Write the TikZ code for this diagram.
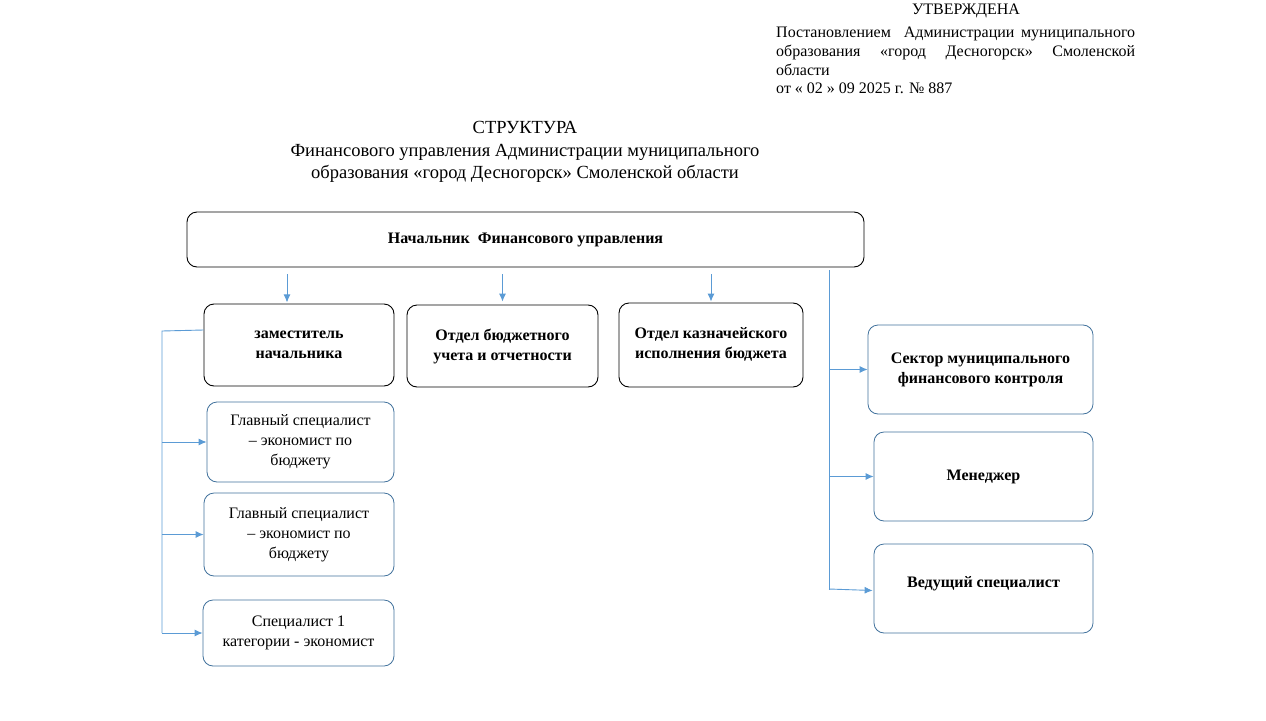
\documentclass[tikz,border=0pt]{standalone}
\usepackage{fontspec}
\setmainfont{Liberation Serif}
\usetikzlibrary{arrows.meta,calc}
\definecolor{lineblue}{HTML}{5B9BD5}
\definecolor{boxblue}{HTML}{41719C}
\tikzset{
  bbox/.style={draw=black, line width=0.9pt, rounded corners=10pt, align=center, inner sep=0pt, font=\bfseries\fontsize{16}{20}\selectfont},
  ubox/.style={draw=boxblue, line width=0.8pt, rounded corners=10pt, align=center, inner sep=0pt, font=\fontsize{16}{20}\selectfont},
  ubbox/.style={ubox, font=\bfseries\fontsize{16}{20}\selectfont},
  conn/.style={draw=lineblue, line width=0.9pt},
  arr/.style={conn, -{Latex[length=8pt,width=7pt]}},
  hdr/.style={inner sep=0pt, font=\fontsize{16}{19}\selectfont},
}
\begin{document}
\begin{tikzpicture}[x=1pt,y=-1pt]
\useasboundingbox (0,0) rectangle (1266,720);
% header
\node[hdr] (approve) at (966,11) {УТВЕРЖДЕНА};
\node[hdr, anchor=north west, text width=359pt, align=justify] (decree) at (776,27)
  {Постановлением\ \ Администрации муниципального образования «город Десногорск» Смоленской области};
\node[hdr, anchor=west] (date) at (776,88) {от « 02 » 09 2025 г. № 887};
\node[align=center, inner sep=0pt, font=\fontsize{18.5}{22.5}\selectfont] (title) at (525,152)
  {СТРУКТУРА\\Финансового управления Администрации муниципального\\образования «город Десногорск» Смоленской области};
% boxes
\node[bbox, minimum width=677pt, minimum height=55pt] (chief) at (525.5,239.5) {Начальник\ \ Финансового управления};
\node[bbox, minimum width=190pt, minimum height=82pt] (zam) at (299,345) {заместитель\\начальника};
\node[bbox, minimum width=191pt, minimum height=82pt] (obu) at (502.5,346) {Отдел бюджетного\\учета и отчетности};
\node[bbox, minimum width=184pt, minimum height=84pt] (oki) at (711,345) {\raisebox{4pt}{\shortstack{Отдел казначейского\\[3pt]исполнения бюджета}}};
\node[ubox, minimum width=187pt, minimum height=80pt] (glav1) at (300.5,442) {Главный специалист\\– экономист по\\бюджету};
\node[ubox, minimum width=190pt, minimum height=83pt] (glav2) at (299,534.5) {Главный специалист\\– экономист по\\бюджету};
\node[ubox, minimum width=191pt, minimum height=66pt] (spec1) at (298.5,633) {Специалист 1\\категории - экономист};
\node[ubbox, minimum width=225pt, minimum height=89pt] (sektor) at (980.5,369.5) {Сектор муниципального\\финансового контроля};
\node[ubbox, minimum width=219pt, minimum height=89pt] (mgr) at (983.5,476.5) {Менеджер};
\node[ubbox, minimum width=219pt, minimum height=89pt] (ved) at (983.5,588.5) {\raisebox{13pt}{Ведущий специалист}};
% connectors from chief
\coordinate (R) at (829,270);
\coordinate (L) at (162,331);
\draw[arr] ($(chief.south -| zam)+(-12,7)$) -- ++(0,28);
\draw[arr] ($(chief.south -| obu)+(0,7)$) -- ($(obu.north)+(0,-3)$);
\draw[arr] ($(chief.south -| oki)+(0,7)$) -- ($(oki.north)+(0,-1)$);
\draw[conn] (R) -- (R |- 0,590);
\draw[arr] (R |- sektor.west) -- (sektor.west);
\draw[arr] (R |- mgr.west) -- (mgr.west);
\draw[arr] (829,589) -- ($(ved.west)+(-1,2)$);
% left bracket
\draw[conn] ($(zam.west)+(0,-15)$) -- (L) -- (L |- spec1.west);
\draw[arr] (L |- glav1.west) -- (glav1.west);
\draw[arr] (L |- glav2.west) -- (glav2.west);
\draw[arr] (L |- spec1.west) -- (spec1.west);
\end{tikzpicture}
\end{document}
